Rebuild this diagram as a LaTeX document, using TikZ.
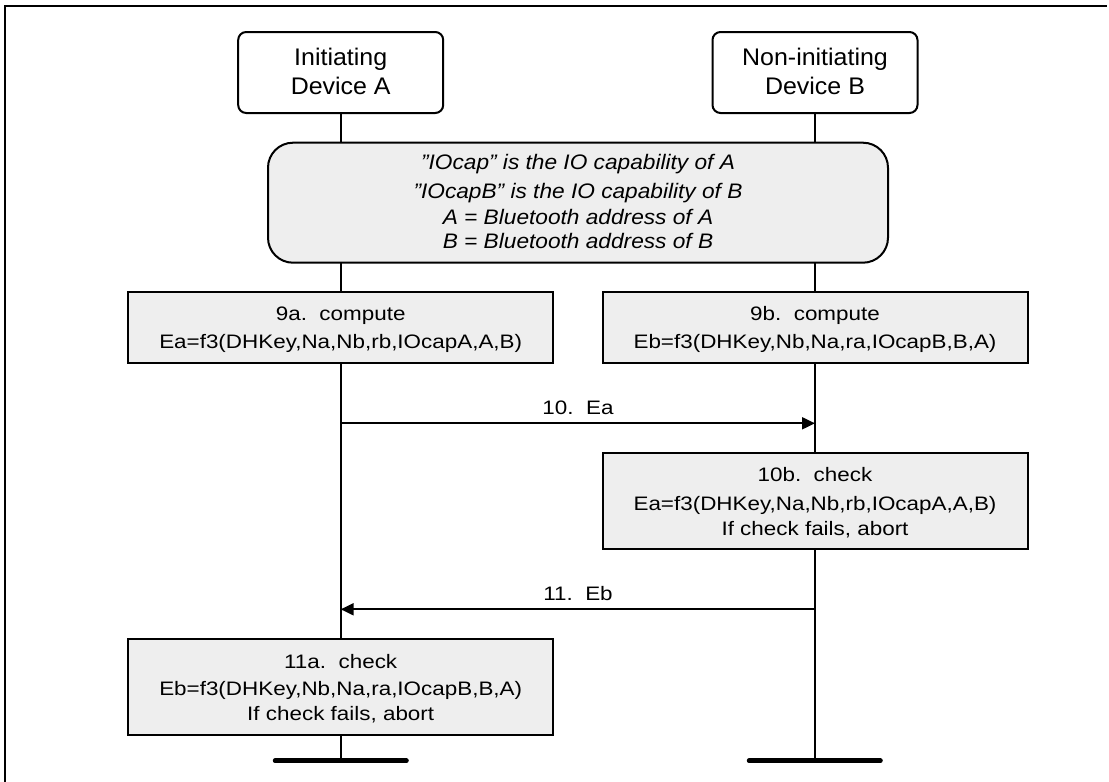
\documentclass[tikz,border=0pt]{standalone}
\usepackage{fontspec}
\setmainfont{Liberation Sans}
\newfontfamily\devfont[FakeStretch=1.04]{Liberation Sans}
\newfontfamily\notefont[FakeStretch=1.08]{Liberation Sans}
\newfontfamily\boxfont[FakeStretch=1.15]{Liberation Sans}
\usetikzlibrary{arrows.meta,backgrounds}
\definecolor{boxgray}{RGB}{238,238,238}
\tikzset{
  devbox/.style={draw, line width=2pt, rounded corners=8pt, fill=white, inner sep=0pt, outer sep=0pt, minimum width=205pt, minimum height=81pt},
  notebox/.style={draw, line width=2pt, rounded corners=25pt, fill=boxgray, inner sep=0pt, outer sep=0pt, minimum width=620pt, minimum height=120pt},
  stepbox/.style={draw, line width=2pt, fill=boxgray, inner sep=0pt, outer sep=0pt, minimum width=425pt},
  devtxt/.style={inner sep=0pt, anchor=base, font=\devfont\fontsize{24}{28}\selectfont},
  notetxt/.style={inner sep=0pt, anchor=base, font=\notefont\itshape\fontsize{21}{25}\selectfont},
  boxtxt/.style={inner sep=0pt, anchor=base, font=\boxfont\fontsize{19.5}{23}\selectfont},
  lifeline/.style={line width=2pt},
  msg/.style={line width=2pt, -{Triangle[length=13pt,width=12pt]}},
  endbar/.style={line width=4.5pt, line cap=round},
  frameline/.style={line width=2pt}
}
\begin{document}
\begin{tikzpicture}[x=1pt,y=-1pt]
\useasboundingbox (0,0) rectangle (1109,782);
% frame
\coordinate (fbl) at (5,782);
\coordinate (ftl) at (5,6);
\coordinate (ftr) at (1107,6);
\draw[frameline] (fbl) -- (ftl) -- (ftr);

% device boxes
\node[devbox] (devA) at (340.7,72.5) {};
\node[devbox] (devB) at (815,72.5) {};
\node[devtxt] (devAt1) at (340.7,65) {Initiating};
\node[devtxt] (devAt2) at (340.7,94) {Device A};
\node[devtxt] (devBt1) at (815,65) {Non-initiating};
\node[devtxt] (devBt2) at (815,94) {Device B};

% note
\node[notebox] (note) at (578,202.7) {};
\node[notetxt] (n1) at (578,169) {”IOcap” is the IO capability of A};
\node[notetxt] (n2) at (578,198) {”IOcapB” is the IO capability of B};
\node[notetxt] (n3) at (578,224) {A = Bluetooth address of A};
\node[notetxt] (n4) at (578,248) {B = Bluetooth address of B};

% 9a / 9b
\node[stepbox, minimum height=71pt] (s9a) at (340.7,327.2) {};
\node[stepbox, minimum height=71pt] (s9b) at (815,327.2) {};
\node[boxtxt] (t9a1) at (340.7,320.5) {9a.\ \ compute};
\node[boxtxt] (t9a2) at (340.7,348.5) {Ea=f3(DHKey,Na,Nb,rb,IOcapA,A,B)};
\node[boxtxt] (t9b1) at (815,320.5) {9b.\ \ compute};
\node[boxtxt] (t9b2) at (815,348.5) {Eb=f3(DHKey,Nb,Na,ra,IOcapB,B,A)};

% 10b
\node[stepbox, minimum height=95.5pt] (s10b) at (815,501) {};
\node[boxtxt] (t10b1) at (815,481.5) {10b.\ \ check};
\node[boxtxt] (t10b2) at (815,510.5) {Ea=f3(DHKey,Na,Nb,rb,IOcapA,A,B)};
\node[boxtxt] (t10b3) at (815,535) {If check fails, abort};

% 11a
\node[stepbox, minimum height=95.7pt] (s11a) at (340.7,687.2) {};
\node[boxtxt] (t11a1) at (340.7,668.3) {11a.\ \ check};
\node[boxtxt] (t11a2) at (340.7,695) {Eb=f3(DHKey,Nb,Na,ra,IOcapB,B,A)};
\node[boxtxt] (t11a3) at (340.7,720.7) {If check fails, abort};

% lifeline end points and message points
\coordinate (endA) at (340.7,760.7);
\coordinate (endB) at (815,760.7);
\coordinate (barAl) at (275,760.7);
\coordinate (barAr) at (406.5,760.7);
\coordinate (barBl) at (749,760.7);
\coordinate (barBr) at (880.5,760.7);
\coordinate (m10A) at (340.7,423.3);
\coordinate (m10B) at (815,423.3);
\coordinate (m11A) at (340.7,609.3);
\coordinate (m11B) at (815,609.3);

\begin{pgfonlayer}{background}
\draw[lifeline] (devA.south) -- (endA);
\draw[lifeline] (devB.south) -- (endB);
\end{pgfonlayer}

% messages
\draw[msg] (m10A) -- (m10B);
\node[boxtxt] (l10) at (578,414) {10.\ \ Ea};
\draw[msg] (m11B) -- (m11A);
\node[boxtxt] (l11) at (578,600) {11.\ \ Eb};

% end bars
\draw[endbar] (barAl) -- (barAr);
\draw[endbar] (barBl) -- (barBr);
\end{tikzpicture}
\end{document}
